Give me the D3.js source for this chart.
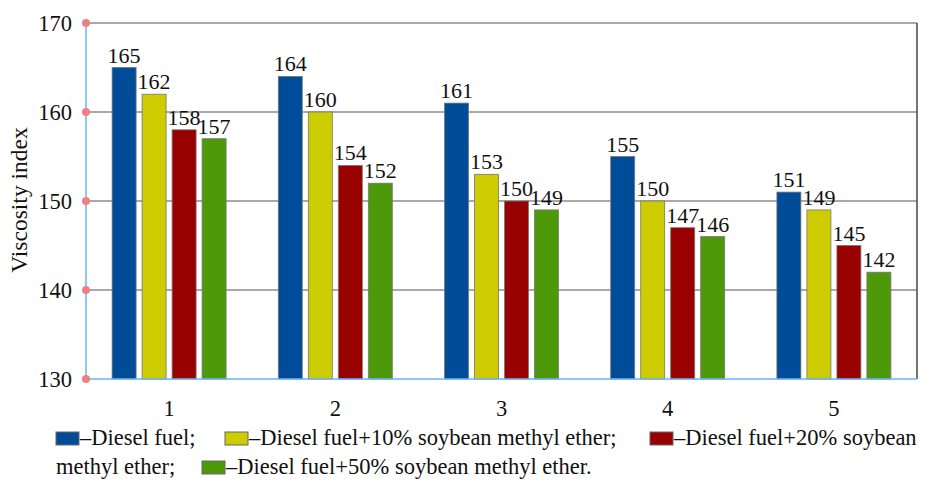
<!DOCTYPE html>
<html>
<head>
<meta charset="utf-8">
<script src="https://cdn.jsdelivr.net/npm/d3@7"></script>
</head>
<body style="margin:0;background:#fff">
<svg id="chart" width="928" height="481" font-family="Liberation Serif" style="display:block;font-family:'Liberation Serif'"></svg>
<script>
// Viscosity index per test point for each fuel blend
const categories = ["1", "2", "3", "4", "5"];
const seriesNames = [
  "Diesel fuel",
  "Diesel fuel+10% soybean methyl ether",
  "Diesel fuel+20% soybean methyl ether",
  "Diesel fuel+50% soybean methyl ether"
];
const dieselFuel = [165, 164, 161, 155, 151];
const blend10 = [162, 160, 153, 150, 149];
const blend20 = [158, 154, 150, 147, 145];
const blend50 = [157, 152, 149, 146, 142];
const yTicks = [130, 140, 150, 160, 170];
const colors = ["#004c99", "#cccc00", "#990000", "#4d990a"];

const seriesValues = [dieselFuel, blend10, blend20, blend50];

const svg = d3.select("#chart");
const plot = { left: 86, right: 917, top: 23, bottom: 379 };

// Shared text styling: Times-like serif face
function txt(sel) {
  return sel
    .attr("font-family", "Liberation Serif")
    .style("font-family", d => "'Liberation Serif'")
    .attr("fill", "#111");
}

const x0 = d3.scaleBand()
  .domain(categories)
  .range([plot.left, plot.right])
  .paddingInner(0.314)
  .paddingOuter(0.157);

const x1 = d3.scaleBand()
  .domain(d3.range(seriesNames.length))
  .range([0, x0.bandwidth()])
  .paddingInner(0.2)
  .paddingOuter(0);

const y = d3.scaleLinear().domain([130, 170]).range([plot.bottom, plot.top]);

// Horizontal gridlines
svg.append("g")
  .selectAll("line")
  .data(yTicks.filter(t => t > 130))
  .join("line")
  .attr("x1", plot.left).attr("x2", plot.right)
  .attr("y1", d => y(d)).attr("y2", d => y(d))
  .attr("stroke", "#555").attr("stroke-width", 1.2);

// Right frame edge
svg.append("line")
  .attr("x1", plot.right).attr("x2", plot.right)
  .attr("y1", plot.top).attr("y2", plot.bottom)
  .attr("stroke", "#444").attr("stroke-width", 1.5);

// Bars
const groups = svg.append("g")
  .selectAll("g")
  .data(categories)
  .join("g")
  .attr("transform", d => `translate(${x0(d)},0)`);

const cells = (c, ci) => seriesValues.map((vals, si) => ({ si, v: vals[ci] }));

groups.selectAll("rect")
  .data(cells)
  .join("rect")
  .attr("x", d => x1(d.si))
  .attr("width", x1.bandwidth())
  .attr("y", d => y(d.v))
  .attr("height", d => y(130) - y(d.v))
  .attr("fill", d => colors[d.si])
  .attr("stroke", "#777")
  .attr("stroke-width", 0.8);

// Value labels
groups.selectAll("text")
  .data(cells)
  .join("text")
  .attr("x", d => x1(d.si) + x1.bandwidth() / 2)
  .attr("y", d => y(d.v) - 5)
  .attr("text-anchor", "middle")
  .attr("font-size", 22)
  .call(txt)
  .text(d => d.v);

// Axis lines (blue)
svg.append("line")
  .attr("x1", plot.left).attr("x2", plot.left)
  .attr("y1", plot.top).attr("y2", plot.bottom)
  .attr("stroke", "#66b3ff").attr("stroke-width", 1.5);
svg.append("line")
  .attr("x1", plot.left).attr("x2", plot.right)
  .attr("y1", plot.bottom).attr("y2", plot.bottom)
  .attr("stroke", "#66b3ff").attr("stroke-width", 1.5);

// Y tick markers and labels
const yTickG = svg.append("g").selectAll("g").data(yTicks).join("g");
yTickG.append("circle")
  .attr("cx", plot.left).attr("cy", d => y(d)).attr("r", 4)
  .attr("fill", "#f08080");
yTickG.append("text")
  .attr("x", plot.left - 14).attr("y", d => y(d) + 8)
  .attr("text-anchor", "end").attr("font-size", 22.5)
  .call(txt)
  .text(d => d);

// X tick labels
svg.append("g").selectAll("text").data(categories).join("text")
  .attr("x", d => x0(d) + x0.bandwidth() / 2)
  .attr("y", 416)
  .attr("text-anchor", "middle").attr("font-size", 22.5)
  .call(txt)
  .text(d => d);

// Y axis title
svg.append("text")
  .attr("transform", "translate(27,200) rotate(-90)")
  .attr("text-anchor", "middle").attr("font-size", 23.5)
  .call(txt)
  .text("Viscosity index");

// Legend, wrapped over two lines
const legendFont = 22.5;
const legendItems = [
  { si: 0, x: 56, y: 445, label: "\u2013Diesel fuel;" },
  { si: 1, x: 225, y: 445, label: "\u2013Diesel fuel+10% soybean methyl ether;" },
  { si: 2, x: 650, y: 445, label: "\u2013Diesel fuel+20% soybean" },
  { si: 3, x: 202, y: 474, label: "\u2013Diesel fuel+50% soybean methyl ether." }
];
const lg = svg.append("g");
legendItems.forEach(it => {
  lg.append("rect")
    .attr("x", it.x).attr("y", it.y - 13).attr("width", 23).attr("height", 13)
    .attr("fill", colors[it.si]).attr("stroke", "#666").attr("stroke-width", 1);
  lg.append("text")
    .attr("x", it.x + 24).attr("y", it.y)
    .attr("font-size", legendFont)
    .call(txt)
    .text(it.label);
});
lg.append("text")
  .attr("x", 56).attr("y", 474)
  .attr("font-size", legendFont)
  .call(txt)
  .text("methyl ether;");
</script>
</body>
</html>
